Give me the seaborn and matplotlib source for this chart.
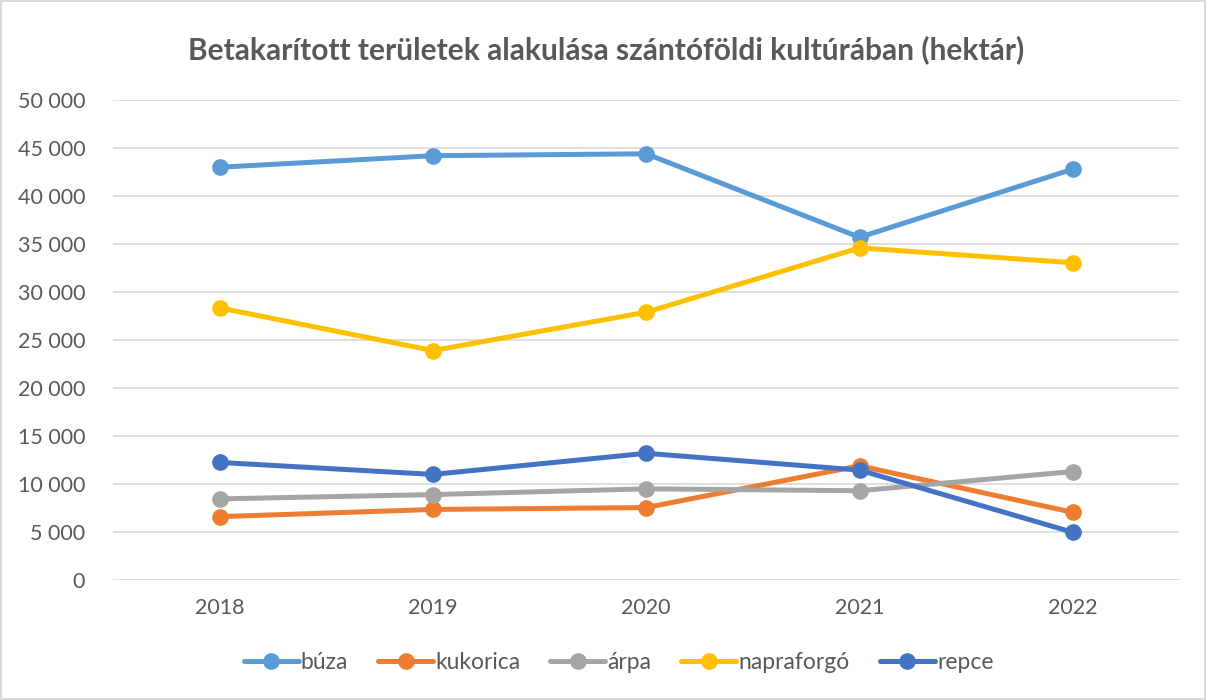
import matplotlib
matplotlib.use("Agg")
import matplotlib.pyplot as plt
import matplotlib.ticker as mticker
import seaborn as sns
import pandas as pd

# Adatok (leolvasva az ábráról)
evek = ["2018", "2019", "2020", "2021", "2022"]
buza = [43000, 44200, 44400, 35700, 42800]
kukorica = [6600, 7350, 7550, 11900, 7050]
arpa = [8450, 8900, 9500, 9300, 11300]
napraforgo = [28350, 23900, 27900, 34600, 33050]
repce = [12250, 11000, 13200, 11450, 4970]

nevek = ["búza", "kukorica", "árpa", "napraforgó", "repce"]
szinek = ["#5B9BD5", "#ED7D31", "#A5A5A5", "#FFC000", "#4472C4"]

df = pd.DataFrame({
    "Ev": evek * 5,
    "Terulet": buza + kukorica + arpa + napraforgo + repce,
    "Kultura": [n for n in nevek for _ in evek],
})

sns.set_style("white")
plt.rcParams["font.family"] = ["Lato", "DejaVu Sans"]

fig = plt.figure(figsize=(12.06, 7), dpi=100, edgecolor="#d9d9d9", linewidth=1.5)
ax = fig.add_axes([0.0937, 0.1714, 0.8843, 0.6857])

sns.lineplot(data=df, x="Ev", y="Terulet", hue="Kultura", palette=szinek,
             marker="o", markersize=12, markeredgewidth=0, linewidth=3.6,
             ax=ax, sort=False)

ax.set_xlim(-0.5, 4.5)
ax.set_ylim(0, 50000)
ax.yaxis.set_major_locator(mticker.MultipleLocator(5000))
ax.yaxis.set_major_formatter(mticker.FuncFormatter(lambda v, p: f"{int(v):,}".replace(",", " ")))
ax.grid(axis="y", color="#d9d9d9", linewidth=1.2)
ax.set_axisbelow(True)
for s in ax.spines.values():
    s.set_visible(False)
ax.tick_params(axis="both", length=0, labelsize=15.5, labelcolor="#595959")
ax.tick_params(axis="y", pad=20)
ax.tick_params(axis="x", pad=13)
ax.set_xlabel("")
ax.set_ylabel("")

fig.text(0.503, 0.929, "Betakarított területek alakulása szántóföldi kultúrában (hektár)",
         ha="center", va="center", fontsize=21.5, fontweight="bold", color="#595959")

leg = ax.legend(loc="upper center", bbox_to_anchor=(0.474, -0.108), ncol=5, frameon=False,
                fontsize=16.5, handlelength=2.4, handletextpad=0.1, columnspacing=1.3,
                labelcolor="#595959")

fig.savefig("out.png", dpi=100)
